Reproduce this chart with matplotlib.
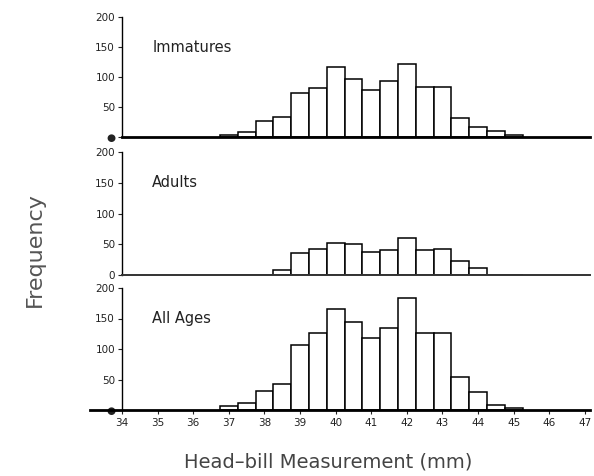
import matplotlib
matplotlib.use("Agg")
import matplotlib.pyplot as plt

# half-mm bins of head-bill length (bin centres, mm)
bins = [37.0, 37.5, 38.0, 38.5, 39.0, 39.5, 40.0, 40.5, 41.0,
        41.5, 42.0, 42.5, 43.0, 43.5, 44.0, 44.5, 45.0]
immatures = [4, 8, 26, 33, 74, 81, 116, 96, 79, 94, 122, 84, 84, 31, 17, 10, 3]
adults = [0, 0, 0, 8, 35, 42, 52, 50, 38, 41, 60, 41, 43, 22, 11, 0, 0]
all_ages = [6, 11, 31, 42, 107, 126, 165, 144, 118, 135, 184, 126, 127, 54, 29, 9, 4]

panels = [("Immatures", immatures), ("Adults", adults), ("All Ages", all_ages)]
y_ticks = [0, 50, 100, 150, 200]
x_ticks = list(range(34, 48))

W, H = 594, 476
# panel (bottom, top) in pixel rows of the page
rows = [(137, 17), (275, 152), (410, 288)]
x_lo, x_hi = 33.1, 47.15
px_per_mm = 35.6
px_left = 122 - (34 - x_lo) * px_per_mm
px_right = 122 + (x_hi - 34) * px_per_mm

plt.rcParams["font.family"] = ["DejaVu Sans"]
fig = plt.figure(figsize=(W / 100, H / 100), dpi=100)
fig.patch.set_facecolor("white")

for i, ((title, vals), (pb, pt)) in enumerate(zip(panels, rows)):
    ax = fig.add_axes([px_left / W, 1 - pb / H,
                       (px_right - px_left) / W, (pb - pt) / H])
    ax.bar(bins, vals, width=0.5, color="white", edgecolor="black",
           linewidth=1.1, zorder=2)
    ax.set_xlim(x_lo, x_hi)
    ax.set_ylim(0, 200)
    ax.spines["top"].set_visible(False)
    ax.spines["right"].set_visible(False)
    ax.spines["left"].set_position(("data", 34))
    ax.spines["left"].set_linewidth(1.0)
    ax.spines["bottom"].set_linewidth(2.0 if i != 1 else 1.4)
    ax.spines["bottom"].set_color("black" if i != 1 else "#333333")
    ax.spines["bottom"].set_zorder(3)
    if i != 2:
        ax.spines["bottom"].set_bounds(34, x_hi)
    ax.set_yticks(y_ticks)
    labels = [str(t) for t in y_ticks]
    if i != 1:
        labels[0] = "\u25cf"
    ax.set_yticklabels(labels)
    ax.tick_params(axis="y", direction="out", length=3, width=0.8,
                   labelsize=7.5, pad=2, colors="#222222")
    ax.text(34.85, 150, title, fontsize=10.5, color="#222222",
            va="center", ha="left")
    if i == 2:
        ax.set_xticks(x_ticks)
        ax.tick_params(axis="x", direction="out", length=3, width=0.8,
                       labelsize=7.5, pad=3, colors="#222222")
    else:
        ax.set_xticks([])

fig.text(35 / W, 1 - 250 / H, "Frequency", rotation=90, fontsize=16,
         color="#555555", ha="center", va="center")
fig.text(328 / W, 1 - 462 / H, "Head\u2013bill Measurement (mm)",
         fontsize=14, color="#444444", ha="center", va="center")

fig.savefig("out.png", dpi=100, facecolor=fig.get_facecolor())
plt.close(fig)
